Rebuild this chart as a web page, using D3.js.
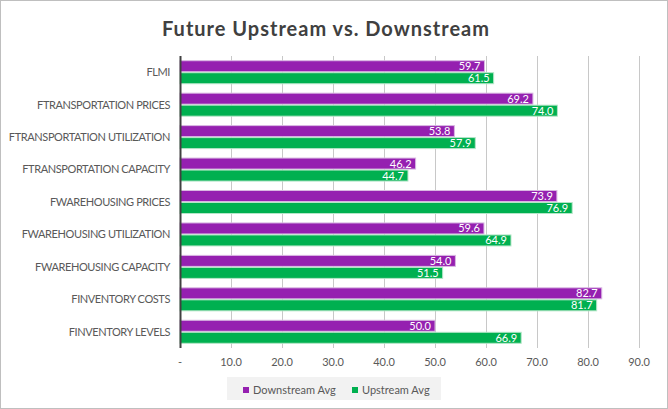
<!DOCTYPE html>
<html>
<head>
<meta charset="utf-8">
<script src="https://cdn.jsdelivr.net/npm/d3@7"></script>
<style>
  body { margin: 0; background: #fff; }
  svg { display: block; font-family: Lato, "Open Sans", sans-serif; }
</style>
</head>
<body>
<svg id="chart"></svg>
<script>
// Données du graphique
const categories = [
  "FLMI",
  "FTRANSPORTATION PRICES",
  "FTRANSPORTATION UTILIZATION",
  "FTRANSPORTATION CAPACITY",
  "FWAREHOUSING PRICES",
  "FWAREHOUSING UTILIZATION",
  "FWAREHOUSING CAPACITY",
  "FINVENTORY COSTS",
  "FINVENTORY LEVELS"
];
const downstreamAvg = [59.7, 69.2, 53.8, 46.2, 73.9, 59.6, 54.0, 82.7, 50.0];
const upstreamAvg = [61.5, 74.0, 57.9, 44.7, 76.9, 64.9, 51.5, 81.7, 66.9];
const xTicks = [0, 10, 20, 30, 40, 50, 60, 70, 80, 90];
const seriesNames = ["Downstream Avg", "Upstream Avg"];
const seriesColors = ["#9520B0", "#00B050"];
const seriesStroke = ["#D9B8E2", "#B5E6C8"];

const W = 668, H = 409;
const margin = { top: 56, right: 29, bottom: 61, left: 180 };
const width = W - margin.left - margin.right;
const height = H - margin.top - margin.bottom;

const svg = d3.select("#chart").attr("width", W).attr("height", H);

// Cadre extérieur
svg.append("rect")
  .attr("x", 0.5).attr("y", 0.5)
  .attr("width", W - 1).attr("height", H - 1)
  .attr("fill", "#fff").attr("stroke", "#BFBFBF");

// Titre
svg.append("text")
  .attr("x", W / 2 - 8).attr("y", 36)
  .attr("text-anchor", "middle")
  .attr("fill", "#404040")
  .style("font-size", "20px").style("font-weight", "bold")
  .style("letter-spacing", "1px")
  .text("Future Upstream vs. Downstream");

const g = svg.append("g").attr("transform", `translate(${margin.left},${margin.top})`);

const x = d3.scaleLinear().domain([0, 90]).range([0, width]);
const y = d3.scaleBand().domain(categories).range([0, height]).paddingInner(0.26).paddingOuter(0.13);
const ySub = d3.scaleBand().domain([0, 1]).range([0, y.bandwidth()]);

// Grille verticale
g.selectAll(".grid")
  .data(xTicks.slice(1))
  .enter().append("line")
  .attr("x1", d => Math.round(x(d)) + 0.5).attr("x2", d => Math.round(x(d)) + 0.5)
  .attr("y1", 0).attr("y2", height)
  .attr("stroke", "#C8C8C8").attr("stroke-width", 1);

// Barres
const data = categories.map((c, i) => ({ cat: c, values: [downstreamAvg[i], upstreamAvg[i]] }));

const groups = g.selectAll(".cat")
  .data(data)
  .enter().append("g")
  .attr("transform", d => `translate(0,${y(d.cat)})`);

groups.selectAll("rect")
  .data(d => d.values.map((v, k) => ({ v, k })))
  .enter().append("rect")
  .attr("x", 0)
  .attr("y", d => ySub(d.k) + 0.5)
  .attr("width", d => x(d.v))
  .attr("height", ySub.bandwidth() - 1)
  .attr("fill", d => seriesColors[d.k])
  .attr("stroke", d => seriesStroke[d.k])
  .attr("stroke-width", 1);

groups.selectAll("text")
  .data(d => d.values.map((v, k) => ({ v, k })))
  .enter().append("text")
  .attr("x", d => x(d.v) - 4)
  .attr("y", d => ySub(d.k) + ySub.bandwidth() / 2)
  .attr("dy", "0.36em")
  .attr("text-anchor", "end")
  .attr("fill", "#fff")
  .style("font-size", "11px")
  .text(d => d.v.toFixed(1));

// Axe vertical
g.append("line")
  .attr("x1", 0.5).attr("x2", 0.5)
  .attr("y1", 0).attr("y2", height)
  .attr("stroke", "#404040").attr("stroke-width", 2);

// Étiquettes des catégories
g.selectAll(".ylab")
  .data(categories)
  .enter().append("text")
  .attr("x", -10)
  .attr("y", d => y(d) + y.bandwidth() / 2)
  .attr("dy", "0.35em")
  .attr("text-anchor", "end")
  .attr("fill", "#595959")
  .style("font-size", "11px")
  .style("letter-spacing", "-0.4px")
  .text(d => d);

// Étiquettes de l'axe X
g.selectAll(".xlab")
  .data(xTicks)
  .enter().append("text")
  .attr("x", d => x(d))
  .attr("y", height + 18)
  .attr("text-anchor", "middle")
  .attr("fill", "#595959")
  .style("font-size", "11px")
  .text(d => d === 0 ? "-" : d.toFixed(1));

// Légende
const legend = svg.append("g").attr("transform", "translate(227,377)");
legend.append("rect")
  .attr("width", 214).attr("height", 23)
  .attr("fill", "#F2F2F2");

const legendX = [16, 125];
seriesNames.forEach((name, i) => {
  legend.append("rect")
    .attr("x", legendX[i]).attr("y", 10)
    .attr("width", 6).attr("height", 6)
    .attr("fill", seriesColors[i]);
  legend.append("text")
    .attr("x", legendX[i] + 10).attr("y", 13)
    .attr("dy", "0.35em")
    .attr("fill", "#595959")
    .style("font-size", "11px")
    .text(name);
});
</script>
</body>
</html>
